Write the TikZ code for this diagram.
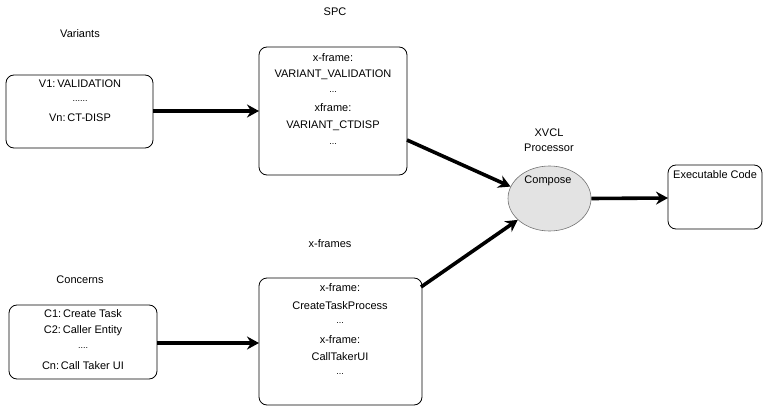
\documentclass[tikz,border=0pt]{standalone}
\usepackage{fontspec}
\setmainfont{Liberation Sans}
\usetikzlibrary{arrows.meta,shapes.geometric}
\begin{document}
\begin{tikzpicture}[x=1pt,y=-1pt,
  every node/.style={font=\fontsize{11}{13}\selectfont, inner sep=0pt},
  rbox/.style={draw, line width=0.8pt, rounded corners=8pt},
  txt/.style={anchor=center},
  dots/.style={anchor=center, font=\fontsize{9}{10}\selectfont},
  flow/.style={line width=3.6pt, -{Stealth[length=12pt,width=13pt,inset=4pt]}}]
\useasboundingbox (0,0) rectangle (765,406);

% section captions
\node[txt] (capVar) at (80,34) {Variants};
\node[txt] (capSpc) at (335,12) {SPC};
\node[txt] (capXf) at (330,244) {x-frames};
\node[txt] (capCon) at (80,280) {Concerns};
\node[txt,align=center] (capProc) at (549,140) {XVCL\\[2pt]Processor};

% variants box
\draw[rbox] (6,75) rectangle (153,148);
\coordinate (varR) at (153,111);
\node[txt] (v1) at (80,84) {V1:\,VALIDATION};
\node[dots] (v2) at (80,101) {......};
\node[txt] (v3) at (80,118) {Vn:\,CT-DISP};

% SPC box
\draw[rbox] (259,47) rectangle (407,175);
\coordinate (spcL) at (259,111);
\coordinate (spcR) at (407,140);
\node[txt] (s1) at (333,58) {x-frame:};
\node[txt] (s2) at (333,75) {VARIANT\_VALIDATION};
\node[dots] (s3) at (333,92) {...};
\node[txt] (s4) at (333,108) {xframe:};
\node[txt] (s5) at (333,126) {VARIANT\_CTDISP};
\node[dots] (s6) at (333,144) {...};

% concerns box
\draw[rbox] (9,305) rectangle (157,379);
\coordinate (conR) at (157,343);
\node[txt] (c1) at (83,314) {C1:\,Create Task};
\node[txt] (c2) at (83,331) {C2:\,Caller Entity};
\node[dots] (c3) at (83,348) {....};
\node[txt] (c4) at (83,366) {Cn:\,Call Taker UI};

% x-frames box
\draw[rbox] (259,278) rectangle (422,405);
\coordinate (xfL) at (259,343);
\coordinate (xfR) at (421,287);
\node[txt] (x1) at (340,288) {x-frame:};
\node[txt] (x2) at (340,306) {CreateTaskProcess};
\node[dots] (x3) at (340,323) {...};
\node[txt] (x4) at (340,340) {x-frame:};
\node[txt] (x5) at (340,357) {CallTakerUI};
\node[dots] (x6) at (340,374) {...};

% processor
\node[ellipse, draw=black!55, fill=black!11, line width=0.6pt,
      minimum width=83pt, minimum height=65pt] (proc) at (549.5,198.5) {};
\node[txt] (compose) at (548,181) {Compose};

% executable code box
\draw[rbox] (668,165) rectangle (762,229);
\coordinate (exeL) at (668,198);
\node[anchor=west] (exe) at (673,175) {Executable Code};

% flows
\draw[flow] (varR) -- (spcL);
\draw[flow] (conR) -- (xfL);
\draw[flow] (spcR) -- (proc.163);
\draw[flow] (xfR) -- (proc.214);
\draw[flow] (proc.east) -- (exeL);
\end{tikzpicture}
\end{document}
